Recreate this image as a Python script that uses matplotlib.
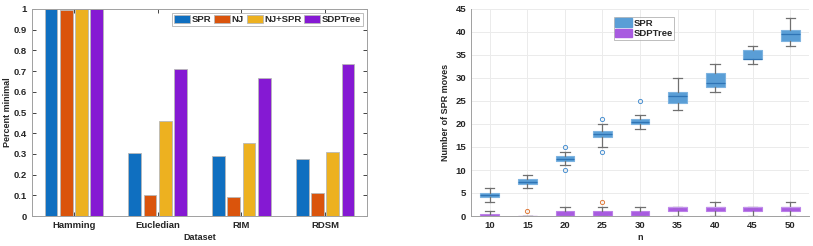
import matplotlib
matplotlib.use("Agg")
import matplotlib.pyplot as plt
import numpy as np
from matplotlib.patches import Patch

plt.rcParams['font.family'] = ['Liberation Sans', 'DejaVu Sans']
plt.rcParams['font.weight'] = 'bold'

# ---- Left chart data ----
datasets = ["Hamming", "Eucledian", "RIM", "RDSM"]
methods = ["SPR", "NJ", "NJ+SPR", "SDPTree"]
spr_vals = [1.0, 0.305, 0.29, 0.277]
nj_vals = [0.995, 0.10, 0.09, 0.11]
njspr_vals = [1.0, 0.46, 0.355, 0.31]
sdp_vals = [1.0, 0.71, 0.665, 0.733]
bar_colors = ["#0F6FC0", "#DA540C", "#EDB120", "#8519D3"]

# ---- Right chart data (box stats) ----
n_labels = ["10", "15", "20", "25", "30", "35", "40", "45", "50"]
spr_whislo = [3, 6, 11, 15, 19, 23, 27, 33, 37]
spr_q1 = [4.2, 7, 12, 17.2, 20, 24.5, 28, 34.2, 38]
spr_med = [4.5, 7.5, 12.5, 17.8, 20.5, 26, 29, 34.2, 39.5]
spr_q3 = [5, 8, 13, 18.5, 21, 27, 31, 36, 40.5]
spr_whishi = [6, 9, 14, 20, 22, 30, 33, 37, 43]
spr_fliers = [[], [], [10, 15], [14, 21], [25], [], [], [], []]

sdp_whislo = [0, 0, 0, 0, 0, 0, 0, 0, 0]
sdp_q1 = [0, 0, 0, 0, 0, 1, 1, 1, 1]
sdp_med = [0, 0, 0, 0, 0, 2, 2, 2, 2]
sdp_q3 = [0.5, 0, 1, 1, 1, 2, 2, 2, 2]
sdp_whishi = [1, 0, 2, 2, 2, 2, 3, 2, 3]
sdp_fliers = [[], [1], [], [3], [], [], [], [], []]

fig = plt.figure(figsize=(8.13, 2.46), dpi=100)

tick_kw = dict(direction='in', length=3, width=0.6, labelsize=6.8, colors='#262626')

# ---------------- Left: grouped bars ----------------
ax1 = fig.add_axes([32/813, 1-216/246, (367-32)/813, (216-9)/246])
x = np.arange(1, len(datasets)+1)
step = 0.182
bw = 0.152
series = [spr_vals, nj_vals, njspr_vals, sdp_vals]
for i, (vals, c, lab) in enumerate(zip(series, bar_colors, methods)):
    ax1.bar(x + (i-1.5)*step, vals, width=bw, color=c, edgecolor='#b8b8b8',
            linewidth=0.6, label=lab)
ax1.set_xlim(0.5, 4.5)
ax1.set_ylim(0, 1)
ax1.set_yticks(np.arange(0, 1.01, 0.1))
ax1.set_yticklabels(["0"] + [f"{v:.1f}" for v in np.arange(0.1, 0.95, 0.1)] + ["1"])
ax1.set_xticks(x)
ax1.set_xticklabels(datasets)
ax1.tick_params(axis='both', which='both', top=True, right=True, **tick_kw)
for s in ax1.spines.values():
    s.set_color('#a0a0a0')
    s.set_linewidth(0.7)
ax1.set_ylabel("Percent minimal", fontsize=6.5, fontweight='bold', labelpad=1.5, color='#262626')
ax1.set_xlabel("Dataset", fontsize=6.5, fontweight='bold', labelpad=2, color='#262626')
leg1 = ax1.legend(loc='upper right', ncol=4, fontsize=6.8, frameon=True, fancybox=False,
                  handlelength=1.7, handleheight=0.9, handletextpad=0.15,
                  columnspacing=0.3, borderpad=0.2, borderaxespad=0.45)
leg1.get_frame().set_edgecolor('#a0a0a0')
leg1.get_frame().set_linewidth(0.6)
for t in leg1.get_texts():
    t.set_color('#262626')

# ---------------- Right: box plots ----------------
ax2 = fig.add_axes([471/813, 1-216/246, (809-471)/813, (216-9)/246])
pos = np.arange(1, len(n_labels)+1)

def stats(lo, q1, med, q3, hi, fl):
    return [dict(whislo=a, q1=b, med=c, q3=d, whishi=e, fliers=f)
            for a, b, c, d, e, f in zip(lo, q1, med, q3, hi, fl)]

spr_stats = stats(spr_whislo, spr_q1, spr_med, spr_q3, spr_whishi, spr_fliers)
sdp_stats = stats(sdp_whislo, sdp_q1, sdp_med, sdp_q3, sdp_whishi, sdp_fliers)

ax2.grid(True, color='#ebebeb', linewidth=0.7)
ax2.set_axisbelow(True)

def draw(st, face, edge, med, flier):
    ax2.bxp(st, positions=pos, widths=0.5, patch_artist=True,
            showfliers=True,
            boxprops=dict(facecolor=face, edgecolor=edge, linewidth=0.8),
            medianprops=dict(color=med, linewidth=0.9),
            whiskerprops=dict(color='#707070', linewidth=0.9),
            capprops=dict(color='#707070', linewidth=0.9),
            capwidths=0.25,
            flierprops=dict(marker='o', markersize=3, markerfacecolor='none',
                            markeredgecolor=flier, markeredgewidth=0.7))

draw(spr_stats, '#5A9ED6', '#7DB3E0', '#2F74B5', '#4A90D0')
draw(sdp_stats, '#A85BE0', '#BC80E8', '#C496EC', '#E07A3A')

ax2.set_xlim(0.5, 9.5)
ax2.set_ylim(0, 45)
ax2.set_yticks(np.arange(0, 46, 5))
ax2.set_xticks(pos)
ax2.set_xticklabels(n_labels)
ax2.tick_params(axis='both', **tick_kw)
ax2.tick_params(axis='both', length=0)
for k in ['top', 'right']:
    ax2.spines[k].set_visible(False)
for k in ['left', 'bottom']:
    ax2.spines[k].set_color('#a0a0a0')
    ax2.spines[k].set_linewidth(0.7)
ax2.set_ylabel("Number of SPR moves", fontsize=6.5, fontweight='bold', labelpad=4, color='#262626')
ax2.set_xlabel("n", fontsize=6.5, fontweight='bold', labelpad=2, color='#262626')

h = [Patch(facecolor='#5A9ED6', edgecolor='#5A9ED6'),
     Patch(facecolor='#A85BE0', edgecolor='#A85BE0')]
leg2 = ax2.legend(h, ["SPR", "SDPTree"], loc='upper left', bbox_to_anchor=(138/338, 0.985),
                  fontsize=6.8, frameon=True, fancybox=False, handlelength=1.8,
                  handleheight=1.0, handletextpad=0.15, borderpad=0.15, labelspacing=0.1)
leg2.get_frame().set_edgecolor('#a0a0a0')
leg2.get_frame().set_linewidth(0.6)
for t in leg2.get_texts():
    t.set_color('#262626')

fig.savefig("out.png", dpi=100)
